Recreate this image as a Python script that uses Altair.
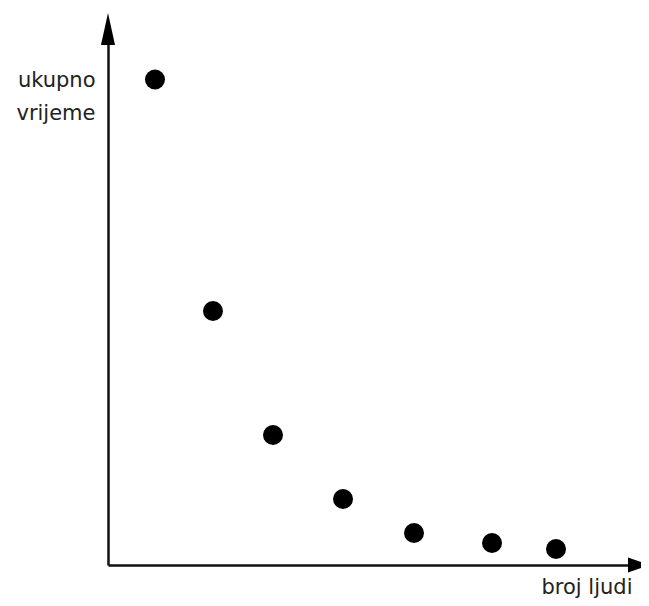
import altair as alt
import pandas as pd

# Values (arbitrary units, axes have no ticks)
broj_ljudi = [0.885, 1.977, 3.107, 4.426, 5.763, 7.232, 8.437]
ukupno_vrijeme = [9.058, 4.739, 2.425, 1.231, 0.597, 0.410, 0.299]

x_max = 10
y_max = 10

points = pd.DataFrame({"x": broj_ljudi, "y": ukupno_vrijeme})
arrow_up = pd.DataFrame({"x": [0], "y": [y_max]})
arrow_right = pd.DataFrame({"x": [x_max], "y": [0]})

FONT = "DejaVu Sans"

xs = alt.Scale(domain=[0, x_max], nice=False, zero=False)
ys = alt.Scale(domain=[0, y_max], nice=False, zero=False)

x_axis = alt.Axis(
    title="broj ljudi", ticks=False, labels=False, grid=False,
    domain=True, domainColor="#111", domainWidth=2.5,
    titleFont=FONT, titleFontSize=21, titleFontWeight="normal", titleColor="#222",
    titleAlign="right", titleBaseline="alphabetic", titleX=524, titleY=28,
)
y_axis = alt.Axis(
    title=["ukupno", "vrijeme"], ticks=False, labels=False, grid=False,
    domain=True, domainColor="#111", domainWidth=2.5,
    titleFont=FONT, titleFontSize=21, titleFontWeight="normal", titleColor="#222",
    titleAngle=0, titleAlign="right", titleBaseline="alphabetic",
    titleX=-13, titleY=57, titleLineHeight=33,
)

dots = alt.Chart(points).mark_point(
    shape="circle", filled=True, color="black", opacity=1, size=400
).encode(
    x=alt.X("x:Q", scale=xs, axis=x_axis),
    y=alt.Y("y:Q", scale=ys, axis=y_axis),
)

up = alt.Chart(arrow_up).mark_point(
    shape="M0,-1L0.44,1L-0.44,1Z", filled=True, color="black", opacity=1, size=1024
).encode(x=alt.X("x:Q", scale=xs), y=alt.Y("y:Q", scale=ys))

right = alt.Chart(arrow_right).mark_point(
    shape="M1,0L-1,0.68L-1,-0.68Z", filled=True, color="black", opacity=1, size=484
).encode(x=alt.X("x:Q", scale=xs), y=alt.Y("y:Q", scale=ys))

chart = alt.layer(dots, up, right).properties(
    width=531,
    height=536,
    autosize=alt.AutoSizeParams(type="none"),
    padding={"left": 100, "top": 21, "right": 2, "bottom": 33},
    background="white",
).configure_view(stroke=None)

chart.save("out.html", embed_options={"renderer": "svg", "actions": False})
